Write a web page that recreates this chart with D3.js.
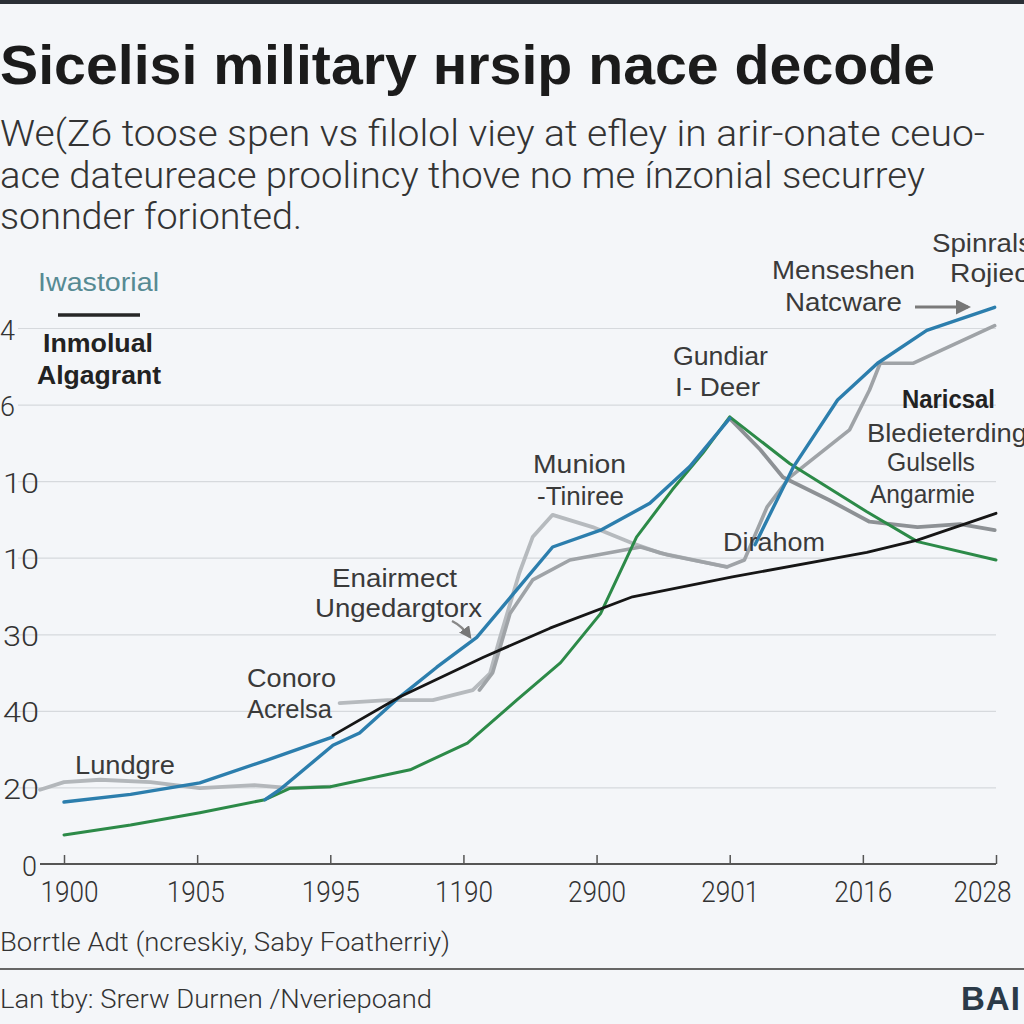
<!DOCTYPE html>
<html><head><meta charset="utf-8">
<script src="https://cdn.jsdelivr.net/npm/d3@7/dist/d3.min.js"></script>
<style>
html,body{margin:0;padding:0;background:#f4f6f9;}
svg{display:block;}
</style></head>
<body>
<svg id="chart" width="1024" height="1024"></svg>
<script>
// ---------- data ----------
const categories = ["1900","1905","1995","1190","2900","2901","2016","2028"];
const yTickValues = [0,10,20,30,40,50,60,70];
const yTickLabels = ["0","20","40","30","10","10","6","4"];

// series: [category position, value]
const lundgreGray = [[-0.18,9.7],[0,10.7],[0.27,11.0],[0.65,10.7],[1.02,9.9],[1.43,10.3],[1.70,9.9],[2.0,10.1]];
const greenLine = [[0,3.8],[0.5,5.1],[1.02,6.7],[1.51,8.4],[1.7,9.9],[2.0,10.1],[2.6,12.3],[3.03,15.8],[3.4,21.4],[3.73,26.3],[4.03,32.7],[4.3,42.7],[4.57,48.9],[4.8,53.7],[5.0,58.4],[5.45,52.3],[6.03,46.0],[6.41,42.1],[7.0,39.7]];
const blueEarly = [[0,8.1],[0.5,9.1],[1.02,10.6],[1.53,13.6],[2.02,16.6]];
const blueSteep = [[1.51,8.4],[1.62,9.7],[2.02,15.5],[2.22,17.1],[2.52,21.8],[2.8,25.7],[3.1,29.6],[3.4,35.8],[3.67,41.4],[4.03,43.6],[4.4,47.1],[4.7,51.9],[5.0,58.2]];
const blueLate = [[5.19,41.7],[5.28,44.9],[5.48,51.9],[5.81,60.6],[6.11,65.4],[6.48,69.7],[6.99,72.7]];
const blackLine = [[2.02,16.8],[2.52,21.8],[3.15,27.0],[3.65,30.8],[4.27,34.9],[5.02,37.5],[6.03,40.7],[6.41,42.3],[7.0,45.8]];
const munionGray = [[2.07,21.0],[2.43,21.4],[2.77,21.4],[3.07,22.7],[3.2,24.9],[3.27,29.3],[3.42,38.0],[3.52,42.7],[3.67,45.6],[3.97,44.0],[4.27,41.9],[4.48,40.6],[4.98,38.8]];
const midGray = [[3.12,22.7],[3.22,25.0],[3.35,32.7],[3.52,37.1],[3.8,39.7],[4.33,41.4],[4.53,40.4],[4.98,38.8],[5.11,39.7],[5.28,46.6],[5.45,50.5],[5.9,56.7],[6.05,61.9],[6.13,65.4],[6.38,65.4],[6.99,70.3]];
const peakGray = [[5.0,58.2],[5.23,54.1],[5.4,50.5],[5.75,47.5],[6.05,44.7],[6.41,44.0],[6.73,44.4],[6.99,43.6]];

const annotations = [
  {t:"Spinrals", x:932, y:252, w:100},
  {t:"Rojieo", x:950, y:282, w:80},
  {t:"Menseshen", x:772, y:279, w:143},
  {t:"Natcware", x:785, y:311, w:117},
  {t:"Gundiar", x:673, y:365, w:95},
  {t:"I- Deer", x:675, y:396, w:85},
  {t:"Naricsal", x:902, y:408, w:93, bold:true},
  {t:"Bledieterding", x:867, y:442, w:160},
  {t:"Gulsells", x:887, y:471, w:88},
  {t:"Angarmie", x:870, y:503, w:105},
  {t:"Munion", x:533, y:473, w:93},
  {t:"-Tiniree", x:537, y:505, w:87},
  {t:"Dirahom", x:723, y:551, w:102},
  {t:"Enairmect", x:332, y:587, w:125},
  {t:"Ungedargtorx", x:315, y:617, w:167},
  {t:"Conoro", x:247, y:687, w:89},
  {t:"Acrelsa", x:247, y:718, w:85},
  {t:"Lundgre", x:75, y:774, w:100}
];

// ---------- drawing ----------
const svg = d3.select("#chart");
svg.append("rect").attr("width",1024).attr("height",1024).attr("fill","#f4f6f9");
svg.append("rect").attr("x",0).attr("y",0).attr("width",1024).attr("height",4).attr("fill","#2b2f36");

const x = d3.scaleLinear().domain([0,7]).range([64,996]);
const y = d3.scaleLinear().domain([0,70]).range([864,328]);

// title
svg.append("text").attr("x",0).attr("y",84)
  .attr("font-family","'Liberation Sans',Arial,sans-serif").attr("font-weight","bold")
  .attr("font-size",55).attr("fill","#1b1b1b")
  .attr("textLength",935).attr("lengthAdjust","spacingAndGlyphs")
  .text("Sicelisi military \u029Crsip nace decode");

const sub = [
  {t:"We(Z6 toose spen vs filolol viey at efley in arir-onate ceuo-", y:146, w:985},
  {t:"ace dateureace proolincy thove no me \u00EDnzonial securrey", y:188, w:925},
  {t:"sonnder forionted.", y:229, w:302}
];
svg.selectAll("text.sub").data(sub).join("text").attr("class","sub")
  .attr("x",0).attr("y",d=>d.y).attr("font-family","Roboto,sans-serif")
  .attr("font-size",37).attr("font-weight",300).attr("fill","#333")
  .attr("textLength",d=>d.w).attr("lengthAdjust","spacingAndGlyphs")
  .text(d=>d.t);

// y axis / grid
const yAxis = d3.axisLeft(y).tickValues(yTickValues).tickFormat((d,i)=>yTickLabels[i])
  .tickSize(-(996-18)).tickPadding(0);
const gy = svg.append("g").attr("transform","translate(18,0)").call(yAxis);
gy.select(".domain").remove();
gy.selectAll(".tick line").attr("stroke","#d6d9dd").attr("stroke-width",1.2)
  .attr("display",d=>d===0?"none":null);
gy.selectAll(".tick text")
  .attr("font-family","Roboto,sans-serif").attr("font-size",27).attr("font-weight",300).attr("fill","#333")
  .attr("dy",null).attr("y",11)
  .attr("text-anchor",d=>d===0?"end":"start")
  .attr("x",d=>d===0?19:(d>=60?-18:-15))
  .attr("textLength",d=>d===0||d>=60?null:36).attr("lengthAdjust","spacingAndGlyphs");

// x axis
const xAxis = d3.axisBottom(x).tickValues(d3.range(categories.length))
  .tickFormat(i=>categories[i]).tickSize(-9).tickSizeOuter(0).tickPadding(17);
const gx = svg.append("g").attr("transform","translate(0,864)").call(xAxis);
gx.select(".domain").remove();
gx.selectAll(".tick line").attr("stroke","#555").attr("stroke-width",1.5);
gx.selectAll(".tick text").attr("font-family","Roboto,sans-serif").attr("font-size",30).attr("font-weight",300)
  .attr("fill","#333").attr("textLength",58).attr("lengthAdjust","spacingAndGlyphs")
  .attr("x",(d,i)=> i===0?5:(i===categories.length-1?-14:(i===1?-2:0)));
svg.append("line").attr("x1",40).attr("x2",996).attr("y1",864).attr("y2",864)
  .attr("stroke","#555").attr("stroke-width",2);

// lines
const line = d3.line().x(d=>x(d[0])).y(d=>y(d[1]));
const series = [
  {d:lundgreGray, c:"#b3b7bb", w:3.8},
  {d:munionGray, c:"#b6babe", w:3.8},
  {d:midGray, c:"#9fa3a7", w:3.6},
  {d:peakGray, c:"#8d9195", w:3.8},
  {d:greenLine, c:"#2c8a48", w:3},
  {d:blueEarly, c:"#2c7ead", w:3.4},
  {d:blueSteep, c:"#2c7ead", w:3.4},
  {d:blueLate, c:"#2c7ead", w:3.4},
  {d:blackLine, c:"#161616", w:2.8}
];
svg.append("g").selectAll("path").data(series).join("path")
  .attr("d",s=>line(s.d)).attr("fill","none").attr("stroke",s=>s.c)
  .attr("stroke-width",s=>s.w).attr("stroke-linejoin","round").attr("stroke-linecap","round");

// connectors / arrows
svg.append("defs").append("marker").attr("id","ah").attr("viewBox","0 0 10 10")
  .attr("refX",8).attr("refY",5).attr("markerWidth",5).attr("markerHeight",5).attr("orient","auto")
  .append("path").attr("d","M0,0 L10,5 L0,10 z").attr("fill","#777");
svg.append("line").attr("x1",915).attr("y1",307).attr("x2",968).attr("y2",307)
  .attr("stroke","#7a7a7a").attr("stroke-width",3).attr("marker-end","url(#ah)");
svg.append("path").attr("d","M452,621 Q462,626 470,637").attr("fill","none")
  .attr("stroke","#888").attr("stroke-width",2.5).attr("marker-end","url(#ah)");

// legend
const legendFont = "'Liberation Sans',Arial,sans-serif";
svg.append("text").attr("x",38).attr("y",291).attr("font-family",legendFont)
  .attr("font-size",25).attr("fill","#568a93")
  .attr("textLength",121).attr("lengthAdjust","spacingAndGlyphs").text("Iwastorial");
svg.append("line").attr("x1",58).attr("x2",140).attr("y1",315).attr("y2",315)
  .attr("stroke","#262626").attr("stroke-width",3.5);
svg.append("text").attr("x",43).attr("y",352).attr("font-family",legendFont)
  .attr("font-size",25).attr("font-weight","bold").attr("fill","#222")
  .attr("textLength",110).attr("lengthAdjust","spacingAndGlyphs").text("Inmolual");
svg.append("text").attr("x",37).attr("y",384).attr("font-family",legendFont)
  .attr("font-size",25).attr("font-weight","bold").attr("fill","#222")
  .attr("textLength",124).attr("lengthAdjust","spacingAndGlyphs").text("Algagrant");

// annotations
svg.append("g").selectAll("text").data(annotations).join("text")
  .attr("x",d=>d.x).attr("y",d=>d.y)
  .attr("font-family",legendFont)
  .attr("font-size",25).attr("font-weight",d=>d.bold?"bold":"normal")
  .attr("fill",d=>d.bold?"#222":"#3a3a3a")
  .attr("textLength",d=>d.w).attr("lengthAdjust","spacingAndGlyphs")
  .text(d=>d.t);

// footer
svg.append("text").attr("x",0).attr("y",951).attr("font-family","Roboto,sans-serif")
  .attr("font-size",26).attr("font-weight",300).attr("fill","#333").attr("textLength",450).attr("lengthAdjust","spacingAndGlyphs")
  .text("Borrtle Adt (ncreskiy, Saby Foatherriy)");
svg.append("line").attr("x1",0).attr("x2",1024).attr("y1",969).attr("y2",969)
  .attr("stroke","#666").attr("stroke-width",2);
svg.append("text").attr("x",0).attr("y",1008).attr("font-family","Roboto,sans-serif")
  .attr("font-size",26).attr("font-weight",300).attr("fill","#333").attr("textLength",432).attr("lengthAdjust","spacingAndGlyphs")
  .text("Lan tby: Srerw Durnen /\u039Dveriepoand");
svg.append("text").attr("x",961).attr("y",1010).attr("font-family",legendFont)
  .attr("font-size",33).attr("font-weight","bold").attr("fill","#2b3a48")
  .attr("letter-spacing",1).text("BAI");
</script>
</body></html>
